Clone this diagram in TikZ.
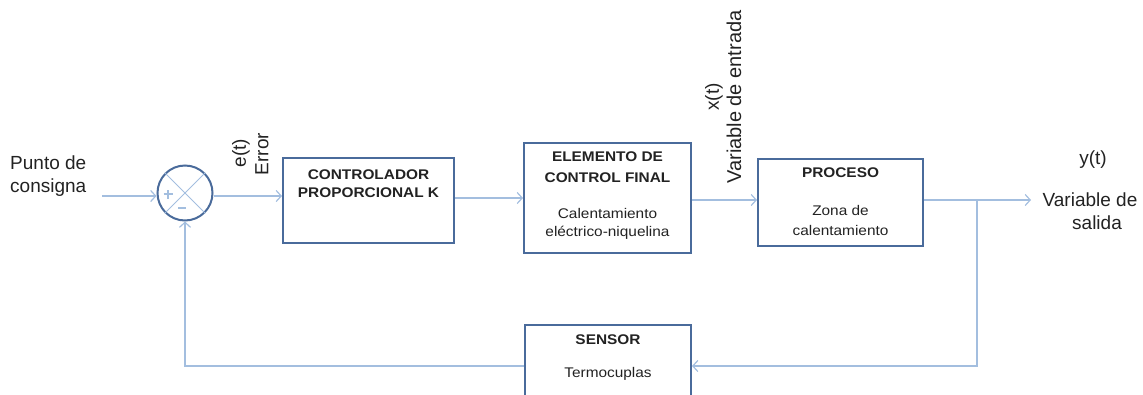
\documentclass[tikz,border=0pt]{standalone}
\usepackage{fontspec}
\setmainfont{Liberation Sans}
\newfontfamily\boxfont{Liberation Sans}[FakeStretch=1.1]
\usetikzlibrary{arrows.meta}
\definecolor{boxc}{HTML}{4A6B9B}
\definecolor{linec}{HTML}{A3BEDF}
\definecolor{txtc}{HTML}{222222}
\tikzset{
  blk/.style={draw=boxc, line width=2pt, rectangle, inner sep=0pt, fill=white},
  arr/.style={draw=linec, line width=1.5pt, -{Straight Barb[length=5pt,width=11pt,line width=1.2pt]}},
  ln/.style={draw=linec, line width=1.5pt},
  bt/.style={font=\boxfont\fontsize{14}{16}\selectfont\bfseries, text=txtc, inner sep=0pt},
  nt/.style={font=\boxfont\fontsize{14}{16}\selectfont, text=txtc, inner sep=0pt},
  lt/.style={font=\fontsize{19}{22}\selectfont, text=txtc, inner sep=0pt},
}
\begin{document}
\begin{tikzpicture}[x=1pt,y=-1pt]
\useasboundingbox (0,0) rectangle (1143,394);
% blocks
\node[blk, minimum width=171pt, minimum height=85pt] (ctrl) at (368.5,200.5) {};
\node[blk, minimum width=167pt, minimum height=110pt] (elem) at (607.5,198) {};
\node[blk, minimum width=165pt, minimum height=87pt] (proc) at (840.5,202.5) {};
\node[blk, minimum width=166pt, minimum height=80pt] (sens) at (608,365) {};
\node[draw=boxc, line width=2pt, circle, minimum size=55pt, inner sep=0pt] (sum) at (185,193) {};
% sum junction marks
\draw[ln, line width=1pt] (sum.north east) -- (sum.south west);
\draw[ln, line width=1pt] (sum.north west) -- (sum.south east);
\coordinate (pc) at (168,194);
\coordinate (mc) at (182,208);
\draw[ln, line width=1.2pt] ([xshift=-4.5pt]pc) -- ([xshift=4.5pt]pc);
\draw[ln, line width=1.2pt] ([yshift=-4.5pt]pc) -- ([yshift=4.5pt]pc);
\draw[ln, line width=1.2pt] ([xshift=-4pt]mc) -- ([xshift=4pt]mc);
% block texts
\node[bt] (t1) at (368.5,175) {CONTROLADOR};
\node[bt] (t2) at (368.5,193) {PROPORCIONAL K};
\node[bt] (t3) at (607.5,157) {ELEMENTO DE};
\node[bt] (t4) at (607.5,178) {CONTROL FINAL};
\node[nt] (t5) at (607.5,213) {Calentamiento};
\node[nt] (t6) at (607.5,233) {eléctrico-niquelina};
\node[bt] (t7) at (840.5,173) {PROCESO};
\node[nt] (t8) at (840.5,210) {Zona de};
\node[nt] (t9) at (840.5,230) {calentamiento};
\node[bt] (t10) at (608,340) {SENSOR};
\node[nt] (t11) at (608,374) {Termocuplas};
% outside labels
\node[lt, anchor=west] (l1) at (10,163) {Punto de};
\node[lt, anchor=west] (l2) at (10,188) {consigna};
\node[lt, rotate=90] (l3) at (241,153) {e(t)};
\node[lt, rotate=90] (l4) at (262,154) {Error};
\node[lt, rotate=90] (l5) at (714,97) {x(t)};
\node[lt, rotate=90, font=\fontsize{20}{22}\selectfont] (l6) at (734,97) {Variable de entrada};
\node[lt] (l7) at (1093,160) {y(t)};
\node[lt] (l8) at (1090,200) {Variable de};
\node[lt] (l9) at (1097,223) {salida};
% connectors
\coordinate (sp) at (102,196);
\coordinate (out) at (1031,200);
\coordinate (br) at (977,200);
\coordinate (brd) at (977,366);
\coordinate (fb) at (185,366);
\draw[arr] (sp) -- (sp -| sum.west);
\draw[arr] (sp -| sum.east) -- (sp -| ctrl.west);
\draw[arr] (ctrl.east |- 0,198) -- (elem.west |- 0,198);
\draw[arr] (elem.east |- 0,200) -- (proc.west |- 0,200);
\draw[arr] (proc.east |- out) -- (out);
\draw[arr] (br) -- (brd) -- (sens.east |- brd);
\draw[arr] (sens.west |- fb) -- (fb) -- (sum.south);
\end{tikzpicture}
\end{document}
